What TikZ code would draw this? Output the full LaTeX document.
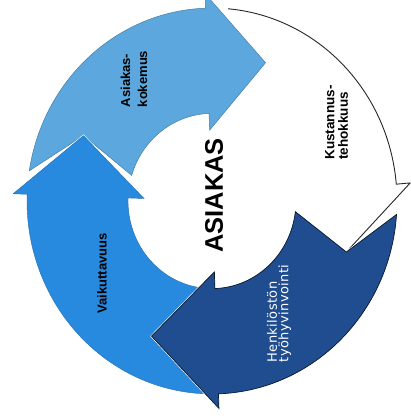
\documentclass[tikz,border=0pt]{standalone}
\usepackage{fontspec}
\setmainfont{Liberation Sans}
\newfontfamily\henkfont[LetterSpace=3]{DejaVu Sans}
\usetikzlibrary{calc}
\definecolor{lightB}{RGB}{92,168,222}
\definecolor{midB}{RGB}{40,138,222}
\definecolor{darkB}{RGB}{31,77,143}
\newcommand{\ringRo}{185}
\newcommand{\ringRi}{84}
\newcommand{\ringRt}{143}
\newcommand{\ringWo}{199}
\newcommand{\ringWi}{68}
% #1 tail outer angle, #2 tail inner angle, #3 notch angle, #4 head base angle, #5 tip angle, #6 style
\newcommand{\cyclearrow}[6]{%
  \path[#6] (#1:\ringRo) arc[start angle=#1, end angle=#4, radius=\ringRo]
    -- (#4:\ringWo) -- (#5:\ringRt) -- (#4:\ringWi) -- (#4:\ringRi)
    arc[start angle=#4, end angle=#2, radius=\ringRi] -- (#3:\ringRt) -- cycle;}
\begin{document}
\begin{tikzpicture}[x=1pt,y=1pt,
  whitearrow/.style={fill=white},
  whiteedge/.style={draw=black!85, line width=0.9pt, line join=round},
  lightarrow/.style={fill=lightB, draw=lightB!75!black, line width=0.5pt},
  midarrow/.style={preaction={draw=white, line width=1.8pt}, fill=midB, draw=midB!80!black, line width=0.4pt},
  darkarrow/.style={preaction={draw=white, line width=2pt}, fill=darkB, draw=black!70!darkB, line width=0.7pt},
  lbl/.style={font=\bfseries\fontsize{13}{17}\selectfont, align=left, rotate=90, inner sep=0pt, text=black},
  klbl/.style={font=\bfseries\fontsize{13.5}{13.5}\selectfont, align=left, rotate=90, inner sep=0pt, text=black},
  hlbl/.style={font=\henkfont\fontsize{13}{11.5}\selectfont, align=left, rotate=90, inner sep=0pt, text=white},
  centerlbl/.style={font=\bfseries\fontsize{25.5}{30}\selectfont, rotate=90, inner sep=0pt, text=black}]
\useasboundingbox (0,0) rectangle (411,416);
\begin{scope}[shift={(212,215)}, yscale=1.043]
  \cyclearrow{85}{83}{68}{5}{-20}{whitearrow}
  \draw[whiteedge] (85:\ringRo) arc[start angle=85, end angle=5, radius=\ringRo]
    -- (5:\ringWo) -- (-20:\ringRt);
  \cyclearrow{171}{163}{154}{92}{68}{lightarrow}
  \cyclearrow{270}{270}{245}{178}{154}{midarrow}
  \cyclearrow{-4}{-7}{-20}{-88}{-115}{darkarrow}
\end{scope}
\node[lbl] (asiakaskokemus) at (134,337) {Asiakas-\\kokemus};
\node[klbl] (kustannustehokkuus) at (336.5,293.5) {Kustannus-\\tehokkuus};
\node[lbl] (vaikuttavuus) at (102,142.5) {Vaikuttavuus};
\node[hlbl] (henkilosto) at (279,102.5) {Henkilöstön\\työhyvinvointi};
\node[centerlbl] (asiakas) at (214,220.5) {ASIAKAS};
\end{tikzpicture}
\end{document}
